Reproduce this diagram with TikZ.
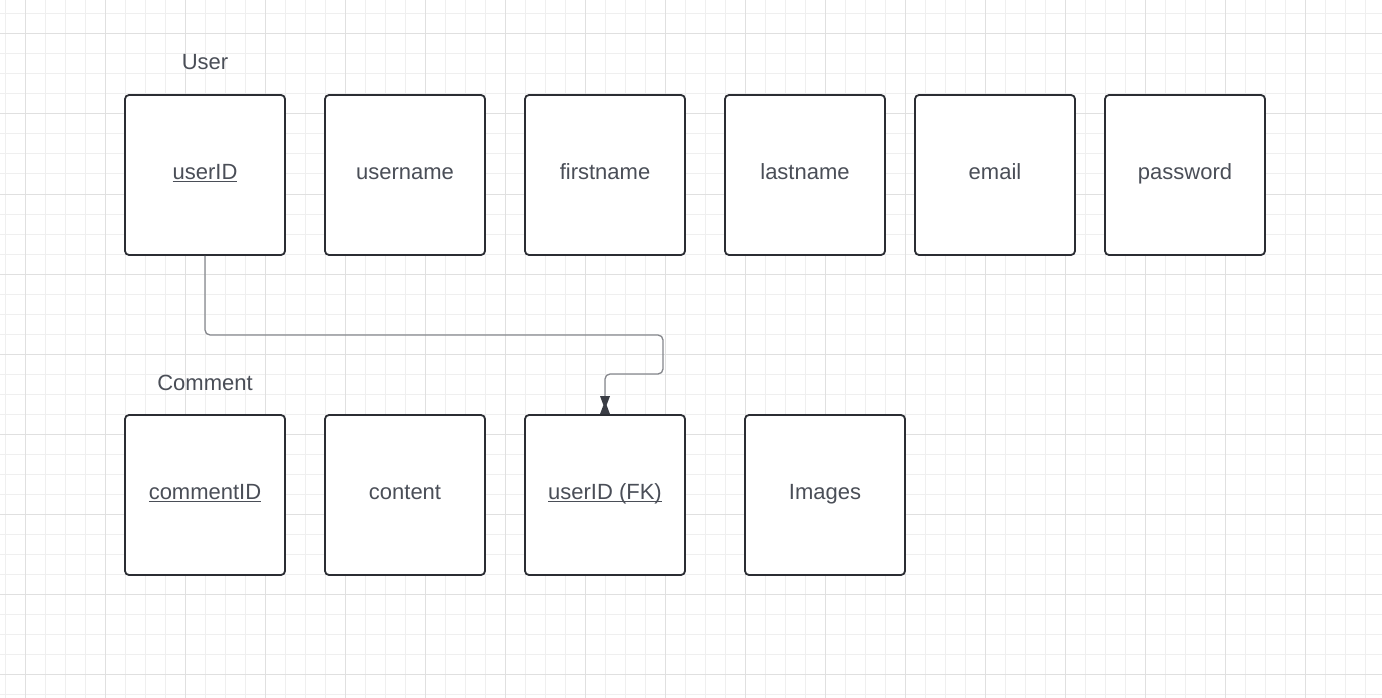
\documentclass[tikz,border=0pt]{standalone}
\usepackage{fontspec}
\setmainfont{Liberation Sans}
\definecolor{gridminor}{HTML}{EFEFEF}
\definecolor{gridmajor}{HTML}{E0E0E0}
\definecolor{boxline}{HTML}{2B2D33}
\definecolor{txt}{HTML}{4A4E57}
\definecolor{conncol}{HTML}{85878C}
\definecolor{tipcol}{HTML}{3A3D45}
\newcommand\myul[1]{\setbox0\hbox{#1}\rlap{\rule[-3.2pt]{\wd0}{1.7pt}}\box0}
\tikzset{
  entbox/.style={draw=boxline, line width=1.8pt, rounded corners=4pt, minimum width=160pt, minimum height=160pt, inner sep=0pt, fill=white},
  lbl/.style={anchor=base, yshift=-4pt, inner sep=0pt, text=txt, font=\fontsize{22}{26}\selectfont},
  ttl/.style={anchor=base, inner sep=0pt, text=txt, font=\fontsize{22}{26}\selectfont},
  conn/.style={draw=conncol, line width=1.3pt, rounded corners=5pt},
}
\begin{document}
\begin{tikzpicture}[x=1pt,y=-1pt]
\useasboundingbox (0,0) rectangle (1382,698);
\fill[white] (0,0) rectangle (1382,698);
% grid
\foreach \x in {5,25,...,1385} \draw[gridminor, line width=1pt] (\x,0) -- (\x,698);
\foreach \y in {14,34,...,698} \draw[gridminor, line width=1pt] (0,\y) -- (1382,\y);
\foreach \x in {25,105,...,1385} \draw[gridmajor, line width=1pt] (\x,0) -- (\x,698);
\foreach \y in {34,114,...,698} \draw[gridmajor, line width=1pt] (0,\y) -- (1382,\y);
% titles
\node[ttl] (tuser) at (205,70) {User};
\node[ttl] (tcomment) at (205,390) {Comment};
% User row
\node[entbox] (uid) at (205,175) {};
\node[entbox] (uname) at (405,175) {};
\node[entbox] (fname) at (605,175) {};
\node[entbox] (lname) at (805,175) {};
\node[entbox] (email) at (995,175) {};
\node[entbox] (pwd) at (1185,175) {};
\node[lbl] (luid) at (uid.center) {\myul{userID}};
\node[lbl] (luname) at (uname.center) {username};
\node[lbl] (lfname) at (fname.center) {firstname};
\node[lbl] (llname) at (lname.center) {lastname};
\node[lbl] (lemail) at (email.center) {email};
\node[lbl] (lpwd) at (pwd.center) {password};
% Comment row
\node[entbox] (cid) at (205,495) {};
\node[entbox] (content) at (405,495) {};
\node[entbox] (fk) at (605,495) {};
\node[entbox] (img) at (825,495) {};
\node[lbl] (lcid) at (cid.center) {\myul{commentID}};
\node[lbl] (lcontent) at (content.center) {content};
\node[lbl] (lfk) at (fk.center) {\myul{userID (FK)}};
\node[lbl] (limg) at (img.center) {Images};
% connector
\draw[conn] (uid.south) -- (uid.south |- 0,335) -- (663,335) -- (663,374) -- (fk.north |- 0,374) -- ([yshift=9pt]fk.north);
\fill[tipcol] ([shift={(-5,-18)}]fk.north) -- ([shift={(5,-18)}]fk.north) -- ([shift={(1.6,-9)}]fk.north) -- ([shift={(5,0)}]fk.north) -- ([shift={(-5,0)}]fk.north) -- ([shift={(-1.6,-9)}]fk.north) -- cycle;
\end{tikzpicture}
\end{document}
